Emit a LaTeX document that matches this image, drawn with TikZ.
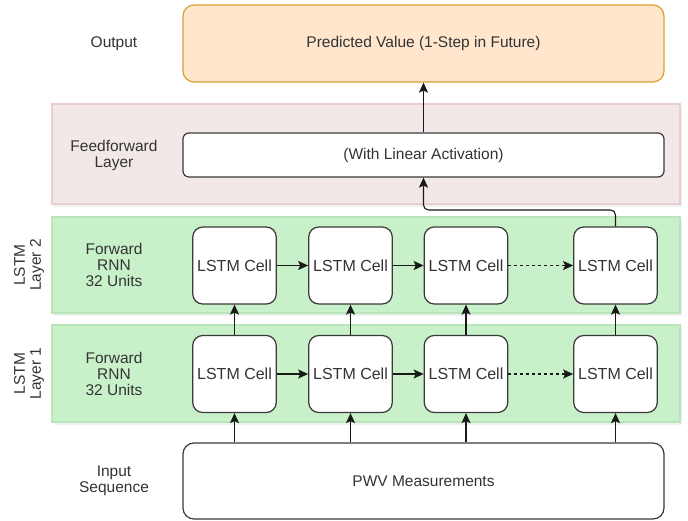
\documentclass[tikz,border=0pt]{standalone}
\usepackage{fontspec}
\setmainfont{Liberation Sans}
\usetikzlibrary{arrows.meta,shadows}
\definecolor{txt}{HTML}{333333}
\definecolor{cellline}{HTML}{3A3A3A}
\definecolor{orfill}{HTML}{FFE6CC}
\definecolor{orline}{HTML}{D9A032}
\definecolor{pkfill}{HTML}{F2E8E8}
\definecolor{pkline}{HTML}{E8CECE}
\definecolor{gnfill}{HTML}{C9F1C9}
\definecolor{gnline}{HTML}{B8E6B8}
\tikzset{
  lbl/.style={text=txt, align=center, font=\fontsize{15.5}{16}\selectfont},
  band/.style={line width=2pt, minimum width=628pt, inner sep=0pt, outer sep=0pt,
    drop shadow={opacity=0.12, shadow xshift=2pt, shadow yshift=-3pt}},
  pinkband/.style={band, draw=pkline, fill=pkfill, minimum height=100pt},
  greenband/.style={band, draw=gnline, fill=gnfill},
  wide/.style={draw=cellline, fill=white, line width=1.2pt, rounded corners=9pt,
    minimum width=481pt, inner sep=0pt, text=txt, font=\fontsize{15.5}{16}\selectfont},
  cell/.style={draw=cellline, fill=white, line width=1.2pt, rounded corners=10pt,
    minimum width=83.5pt, minimum height=77pt, inner sep=0pt, text=txt,
    font=\fontsize{16}{17}\selectfont},
  conn/.style={draw=black!90, line width=1.1pt, -{Stealth[length=10pt,width=9pt,inset=2pt]}},
}
\begin{document}
\begin{tikzpicture}[x=1pt,y=-1pt]
\useasboundingbox (0,0) rectangle (688,521);
% bands
\node[pinkband] (ffband) at (366,154) {};
\node[greenband, minimum height=96pt] (band2) at (366,265) {};
\node[greenband, minimum height=97pt] (band1) at (366,373.5) {};
% wide boxes
\node[wide, draw=orline, fill=orfill, minimum height=77pt, rounded corners=11pt] (out) at (423.5,43.5) {Predicted Value (1-Step in Future)};
\node[wide, minimum height=44pt, rounded corners=6pt] (ff) at (423.5,155) {(With Linear Activation)};
\node[wide, minimum height=76pt, rounded corners=11pt] (pwv) at (423.5,481) {PWV Measurements};
% left labels
\node[lbl] (lout) at (114,43.5) {Output};
\node[lbl] (lff) at (114,155) {Feedforward\\Layer};
\node[lbl] (l2) at (114,265) {Forward\\RNN\\32 Units};
\node[lbl] (l1) at (114,373.5) {Forward\\RNN\\32 Units};
\node[lbl] (lin) at (114,481) {Input\\Sequence};
\node[lbl, rotate=90] (r2) at (29,265) {LSTM\\Layer 2};
\node[lbl, rotate=90] (r1) at (29,373.5) {LSTM\\Layer 1};
% cells
\foreach \i/\x in {1/234.5,2/350.5,3/466,4/615.5}{
  \node[cell] (b\i) at (\x,265.5) {LSTM Cell};
  \node[cell] (a\i) at (\x,374) {LSTM Cell};
}
% horizontal connectors
\draw[conn] (b1) -- (b2);
\draw[conn] (b2) -- (b3);
\draw[conn, dashed] (b3) -- (b4);
\draw[conn] (a1) -- (a2);
\draw[conn] (a2) -- (a3);
\draw[conn, dashed] (a3) -- (a4);
% vertical connectors
\foreach \i in {1,2,3,4}{
  \draw[conn] (pwv.north -| a\i) -- (a\i.south);
  \draw[conn] (a\i) -- (b\i);
}
\coordinate (turn) at (615.5,210);
\draw[conn, rounded corners=5pt] (b4.north) -- (turn) -- (turn -| ff.south) -- (ff.south);
\draw[conn] (ff) -- (out);
\end{tikzpicture}
\end{document}
